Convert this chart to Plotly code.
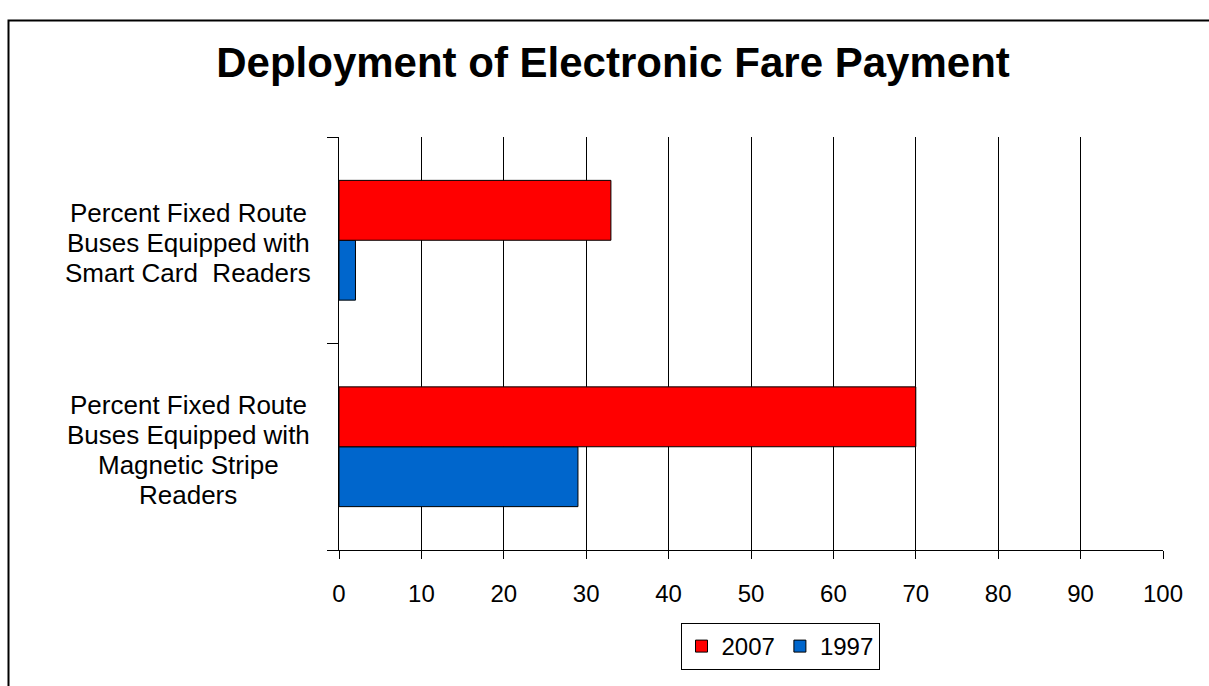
import plotly.graph_objects as go

# Chart data
categories = [
    "Percent Fixed Route<br>Buses Equipped with<br>Magnetic Stripe<br>Readers",
    "Percent Fixed Route<br>Buses Equipped with<br>Smart Card  Readers",
]
values_1997 = [29, 2]
values_2007 = [70, 33]
series_names = ["1997", "2007"]
x_ticks = [0, 10, 20, 30, 40, 50, 60, 70, 80, 90, 100]

W, H = 1209, 686
L, R, T, B = 339, 46, 137, 136
PW, PH = W - L - R, H - T - B

FONT = "Arial, Liberation Sans, sans-serif"

fig = go.Figure()
fig.add_trace(go.Bar(
    y=categories, x=values_1997, orientation="h", name=series_names[0],
    marker=dict(color="#0066CC", line=dict(color="black", width=1)),
))
fig.add_trace(go.Bar(
    y=categories, x=values_2007, orientation="h", name=series_names[1],
    marker=dict(color="#FF0000", line=dict(color="black", width=1)),
))

# Category labels, one annotation per line for wider line spacing
annotations = []
for idx, cat in enumerate(categories):
    lines = cat.split("<br>")
    n = len(lines)
    for i, line in enumerate(lines):
        annotations.append(dict(
            x=(188 - L) / PW, xref="paper", y=idx, yref="y",
            text=line, showarrow=False, xanchor="center", yanchor="middle",
            yshift=-(i - (n - 1) / 2) * 30 - 3,
            font=dict(family=FONT, size=26, color="black"),
        ))

# Outer frame
shapes = [dict(
    type="rect", xref="paper", yref="paper",
    x0=(8.5 - L) / PW, x1=(W + 10 - L) / PW,
    y0=-(H + 10 - (T + PH)) / PH, y1=1 + (T - 20.5) / PH,
    line=dict(color="black", width=2), fillcolor="rgba(0,0,0,0)", layer="below",
)]

fig.update_layout(
    width=W, height=H,
    margin=dict(l=L, r=R, t=T, b=B, pad=0),
    paper_bgcolor="white", plot_bgcolor="white",
    barmode="group", bargap=0.42, bargroupgap=0,
    title=dict(
        text="<b>Deployment of Electronic Fare Payment</b>",
        x=613 / W, xref="container", xanchor="center",
        y=1 - 62 / H, yref="container", yanchor="middle",
        font=dict(family=FONT, size=42, color="black"),
    ),
    xaxis=dict(
        range=[0, 100], tickvals=x_ticks, ticktext=[str(v) for v in x_ticks],
        showgrid=True, gridcolor="black", gridwidth=1,
        showline=True, linecolor="black", linewidth=1,
        ticks="outside", ticklen=8, tickcolor="black", tickwidth=1,
        ticklabelstandoff=14,
        tickfont=dict(family=FONT, size=24, color="black"),
        zeroline=False, fixedrange=True,
    ),
    yaxis=dict(
        type="category", range=[-0.5, 1.5], tickson="boundaries",
        showticklabels=False, showgrid=False,
        showline=True, linecolor="black", linewidth=1,
        ticks="outside", ticklen=11, tickcolor="black", tickwidth=1,
        zeroline=False, fixedrange=True,
    ),
    legend=dict(
        orientation="h", traceorder="reversed",
        x=(780 - L) / PW, xanchor="center",
        y=-(623 - (T + PH)) / PH, yanchor="top",
        bordercolor="black", borderwidth=1, bgcolor="white",
        font=dict(family=FONT, size=24, color="black"),
        itemwidth=30,
    ),
    annotations=annotations,
    shapes=shapes,
    showlegend=True,
)

fig.write_html("out.html", config={"displayModeBar": False})
